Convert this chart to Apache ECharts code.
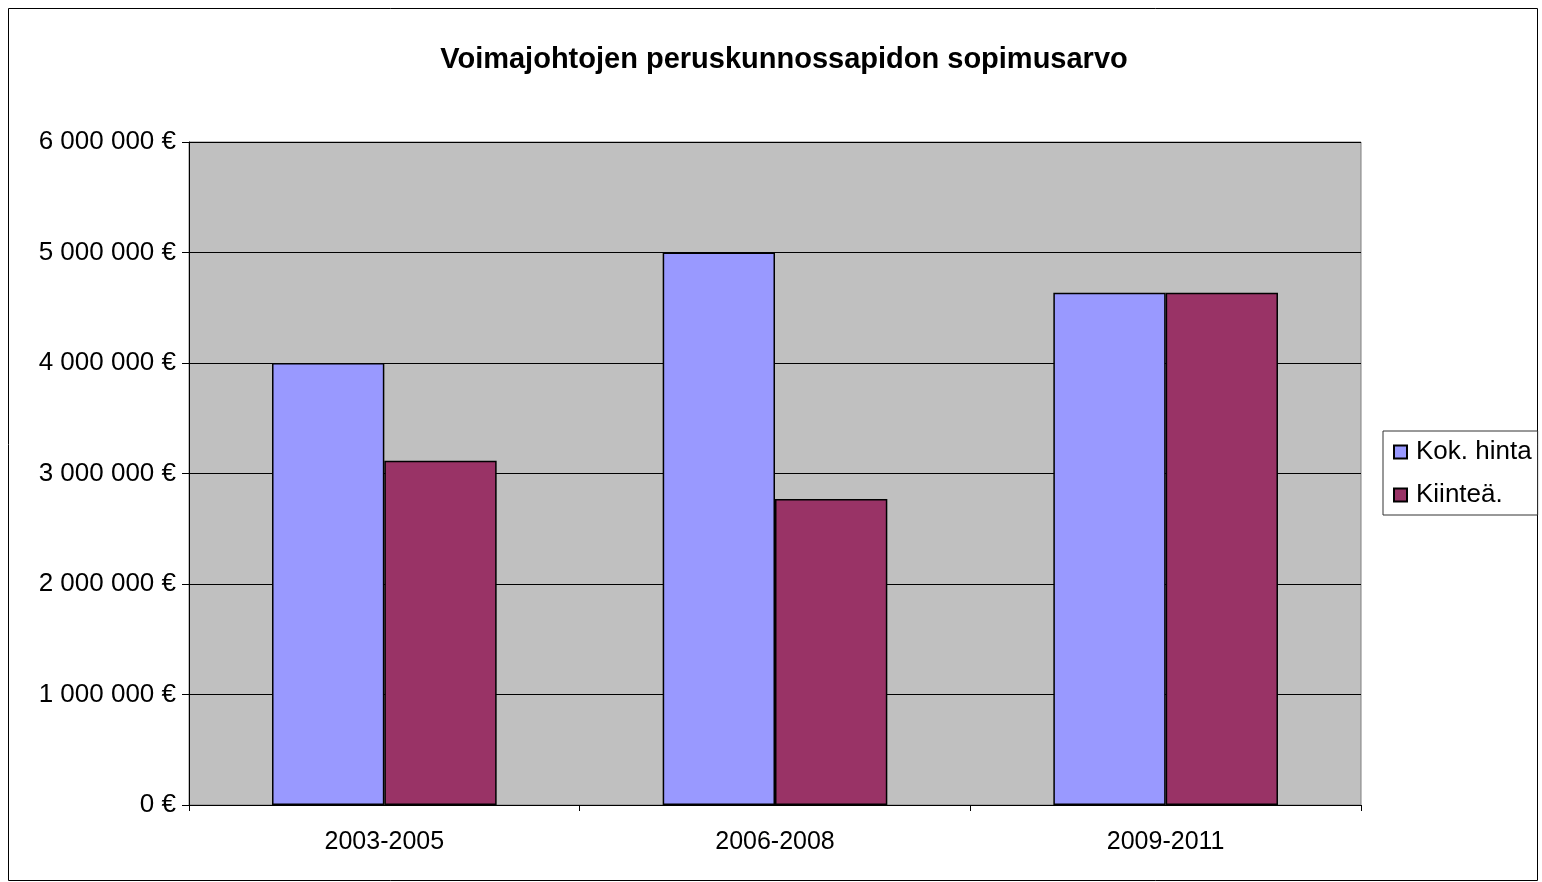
<!DOCTYPE html>
<html>
<head>
<meta charset="utf-8">
<script src="https://cdn.jsdelivr.net/npm/echarts@6/dist/echarts.min.js"></script>
<style>
  html, body { margin: 0; padding: 0; background: #fff; }
  #chart { width: 1542px; height: 882px; }
</style>
</head>
<body>
<div id="chart"></div>
<script>
var periods = ['2003-2005', '2006-2008', '2009-2011'];
var kokHinta = [4000000, 5000000, 4635000];
var kiintea = [3115000, 2770000, 4635000];
var seriesNames = ['Kok. hinta', 'Kiinteä.'];

function euro(v) {
    var s = String(Math.round(v));
    return s.replace(/\B(?=(\d{3})+(?!\d))/g, ' ') + ' €';
}

var chart = echarts.init(document.getElementById('chart'));
var font = 'Liberation Sans, Arial, sans-serif';

chart.setOption({
    animation: false,
    textStyle: { fontFamily: font },
    title: {
        text: 'Voimajohtojen peruskunnossapidon sopimusarvo',
        left: 779,
        textAlign: 'center',
        top: 40,
        textStyle: { fontSize: 29, fontWeight: 'bold', color: '#000', fontFamily: font, lineHeight: 30 }
    },
    graphic: [{
        type: 'rect',
        shape: { x: 8.5, y: 8.5, width: 1529, height: 872 },
        style: { fill: 'none', stroke: '#000', lineWidth: 1 },
        silent: true
    }],
    legend: {
        orient: 'vertical',
        left: 1383,
        top: 431,
        itemWidth: 13,
        itemHeight: 13,
        itemGap: 17,
        padding: [8, 6, 7, 10],
        borderColor: '#333',
        borderWidth: 1,
        icon: 'rect',
        textStyle: { fontSize: 26, lineHeight: 26, color: '#000', fontFamily: font, padding: [0, 0, 0, 4] },
        data: seriesNames
    },
    grid: {
        left: 189, right: 181, top: 142, bottom: 77,
        show: true,
        backgroundColor: '#c0c0c0',
        borderColor: '#808080',
        borderWidth: 1
    },
    xAxis: {
        type: 'category',
        data: periods,
        axisLine: { lineStyle: { color: '#000', width: 1 } },
        axisTick: { show: true, length: 6, lineStyle: { color: '#000' } },
        axisLabel: { fontSize: 25, color: '#000', margin: 25 }
    },
    yAxis: {
        type: 'value',
        min: 0,
        max: 6000000,
        interval: 1000000,
        axisLine: { show: true, lineStyle: { color: '#000', width: 1 } },
        axisTick: { show: true, length: 7, lineStyle: { color: '#000' } },
        axisLabel: { fontSize: 26, color: '#000', margin: 13, formatter: euro },
        splitLine: { lineStyle: { color: '#000', width: 1 } }
    },
    series: [{
        name: seriesNames[0],
        type: 'bar',
        data: kokHinta,
        barGap: 0,
        barCategoryGap: '42.5%',
        itemStyle: { color: '#9999ff', borderColor: '#000', borderWidth: 1.5 }
    }, {
        name: seriesNames[1],
        type: 'bar',
        data: kiintea,
        itemStyle: { color: '#993366', borderColor: '#000', borderWidth: 1.5 }
    }]
});
</script>
</body>
</html>
